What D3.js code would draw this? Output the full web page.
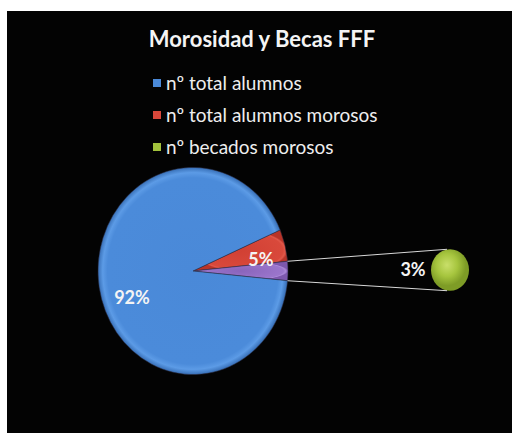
<!DOCTYPE html>
<html lang="es">
<head>
<meta charset="utf-8"/>
<title>Morosidad y Becas FFF</title>
<script src="https://d3js.org/d3.v7.min.js"></script>
<style>
  body { margin: 0; background: #fff; }
  text { font-family: Lato, "Open Sans", sans-serif; }
</style>
</head>
<body>
<script>
// data
var categories = ["nº total alumnos", "nº total alumnos morosos", "nº becados morosos"];
var values = [92, 5, 3];
var colors = ["#4a89d8", "#d8473a", "#a2c23c"];

var w = 512, h = 433;
var svg = d3.select("body").append("svg").attr("width", w).attr("height", h);

// black chart area
svg.append("rect").attr("x", 7).attr("y", 11).attr("width", w - 7).attr("height", h - 11).attr("fill", "#030303");

var defs = svg.append("defs");
function radial(id, stops, cx, cy) {
    var g = defs.append("radialGradient").attr("id", id)
        .attr("cx", cx || "50%").attr("cy", cy || "50%").attr("r", "50%");
    stops.forEach(function (s) { g.append("stop").attr("offset", s[0]).attr("stop-color", s[1]); });
}
radial("gBlue", [["0%", "#4a89d8"], ["90%", "#4b8bda"], ["95%", "#5c9be6"], ["100%", "#3870b8"]]);
radial("gRed", [["0%", "#d14034"], ["90%", "#d9493b"], ["95%", "#e2584a"], ["100%", "#b93428"]]);
radial("gPurple", [["0%", "#8a64bb"], ["90%", "#9b76cc"], ["95%", "#ab88d8"], ["100%", "#7d58ad"]]);
radial("gGreen", [["0%", "#c9df6a"], ["55%", "#a6c53e"], ["100%", "#7e9c26"]], "42%", "38%");

// title
svg.append("text").attr("x", 262).attr("y", 47).attr("text-anchor", "middle")
    .attr("fill", "#f4f4f4").attr("font-size", 22).attr("font-weight", "bold")
    .text("Morosidad y Becas FFF");

// legend
var legend = svg.selectAll("g.leg").data(categories).enter().append("g")
    .attr("transform", function (d, i) { return "translate(153," + (83 + i * 32) + ")"; });
legend.append("rect").attr("x", 0).attr("y", -4).attr("width", 8).attr("height", 8)
    .attr("fill", function (d, i) { return colors[i]; });
legend.append("text").attr("x", 13).attr("y", 0).attr("dy", "0.35em")
    .attr("fill", "#eeeeee").attr("font-size", 19)
    .text(function (d) { return d; });

// main pie: red, other (becados), blue ; "other" slice centered on the right
var stretch = 1.09;
var cx = 193, cy = 271, r = 95;
var total = d3.sum(values);
var mainData = [
    { name: categories[1], value: values[1], fill: "url(#gRed)" },
    { name: "other", value: values[2], fill: "url(#gPurple)" },
    { name: categories[0], value: values[0], fill: "url(#gBlue)" }
];
var start = Math.PI / 2 - (values[1] + values[2] / 2) / total * 2 * Math.PI;
var pie = d3.pie().sort(null).value(function (d) { return d.value; })
    .startAngle(start).endAngle(start + 2 * Math.PI);
var arcs = pie(mainData);
var arc = d3.arc().innerRadius(0).outerRadius(r);

var main = svg.append("g").attr("transform", "translate(" + cx + "," + cy + ") scale(1," + stretch + ")");
main.selectAll("path").data(arcs).enter().append("path")
    .attr("d", arc)
    .attr("fill", function (d) { return d.data.fill; })
    .attr("stroke", "#2a2a40").attr("stroke-width", 0.5);

// secondary pie
var cx2 = 450, cy2 = 270, r2 = 19;
var pie2 = d3.pie().sort(null).value(function (d) { return d; });
var second = svg.append("g").attr("transform", "translate(" + cx2 + "," + cy2 + ") scale(1," + stretch + ")");
second.selectAll("path").data(pie2([values[2]])).enter().append("path")
    .attr("d", d3.arc().innerRadius(0).outerRadius(r2))
    .attr("fill", "url(#gGreen)");

// connector lines
var other = arcs[1];
function pt(a, rad, x0, y0) { return [x0 + rad * Math.sin(a), y0 - rad * Math.cos(a) * stretch]; }
var p1 = pt(other.startAngle, r, cx, cy), p2 = pt(other.endAngle, r, cx, cy);
svg.append("line").attr("x1", p1[0]).attr("y1", p1[1]).attr("x2", cx2 - 3).attr("y2", cy2 - r2 * stretch)
    .attr("stroke", "#d8d8d8").attr("stroke-width", 1);
svg.append("line").attr("x1", p2[0]).attr("y1", p2[1]).attr("x2", cx2 - 3).attr("y2", cy2 + r2 * stretch)
    .attr("stroke", "#d8d8d8").attr("stroke-width", 1);

// labels
function pct(v) { return Math.round(v / total * 100) + "%"; }
var lab = { fill: "#f4f4f4", size: 18 };
var redC = d3.arc().innerRadius(70).outerRadius(70).centroid(arcs[0]);
svg.append("text").attr("x", cx + redC[0]).attr("y", cy + 8 + redC[1] * stretch)
    .attr("text-anchor", "middle").attr("dy", "0.35em")
    .attr("fill", lab.fill).attr("font-size", lab.size).attr("font-weight", "bold")
    .text(pct(values[1]));
svg.append("text").attr("x", cx - 61).attr("y", cy + 27)
    .attr("text-anchor", "middle").attr("dy", "0.35em")
    .attr("fill", lab.fill).attr("font-size", lab.size).attr("font-weight", "bold")
    .text(pct(values[0]));
svg.append("text").attr("x", cx2 - 37).attr("y", cy2)
    .attr("text-anchor", "middle").attr("dy", "0.35em")
    .attr("fill", lab.fill).attr("font-size", lab.size).attr("font-weight", "bold")
    .text(pct(values[2]));
</script>
</body>
</html>
